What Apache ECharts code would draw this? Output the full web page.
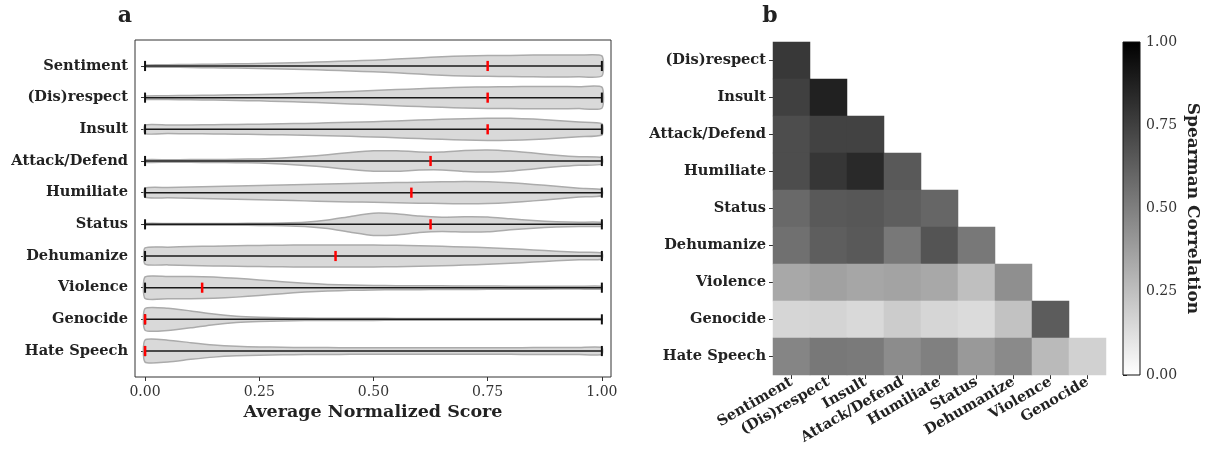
<!DOCTYPE html>
<html>
<head>
<meta charset="utf-8">
<script src="https://cdn.jsdelivr.net/npm/echarts@6/dist/echarts.min.js"></script>
<style>
  html, body { margin: 0; padding: 0; background: #fff; }
  #main { width: 1207px; height: 457px; }
</style>
</head>
<body>
<div id="main"></div>
<script>
// ---- panel a: violins ----
const violinCats = ['Sentiment', '(Dis)respect', 'Insult', 'Attack/Defend', 'Humiliate',
  'Status', 'Dehumanize', 'Violence', 'Genocide', 'Hate Speech'];
const medians = [0.75, 0.75, 0.75, 0.625, 0.583, 0.625, 0.417, 0.125, 0, 0];
const scoreMin = [0, 0, 0, 0, 0, 0, 0, 0, 0, 0];
const scoreMax = [1, 1, 1, 1, 1, 1, 1, 1, 1, 1];
const scoreTicks = [0, 0.25, 0.5, 0.75, 1];

// density profile sampled at these scores (arbitrary units, normalised per violin)
const densX = [0, 0.05, 0.1, 0.15, 0.2, 0.25, 0.3, 0.35, 0.4, 0.45, 0.5,
  0.55, 0.6, 0.65, 0.7, 0.75, 0.8, 0.85, 0.9, 0.95, 1];
const densSentiment = [1.0, 1.2, 1.5, 1.8, 2.1, 2.5, 3.0, 3.5, 4.2, 5.0, 5.8, 6.8, 8.0, 9.2, 10.0, 10.3, 10.5, 10.8, 11.0, 10.8, 10.0];
const densDisrespect = [1.5, 1.8, 2.0, 2.3, 2.6, 3.0, 3.5, 4.2, 5.0, 5.8, 6.7, 7.5, 8.3, 9.0, 9.6, 10.0, 10.2, 10.3, 10.3, 10.2, 9.8];
const densInsult = [4.0, 4.0, 4.1, 4.3, 4.5, 4.8, 5.1, 5.5, 6.0, 6.5, 7.1, 7.8, 8.6, 9.3, 9.9, 10.3, 10.2, 9.5, 8.3, 6.8, 5.3];
const densAttack = [1.2, 1.2, 1.3, 1.4, 1.6, 2.0, 2.8, 4.2, 6.0, 8.0, 9.6, 9.7, 8.6, 8.5, 10.0, 10.5, 9.5, 7.5, 5.5, 4.0, 3.2];
const densHumiliate = [4.5, 5.0, 5.5, 6.0, 6.5, 7.0, 7.5, 8.0, 8.5, 9.0, 9.4, 9.8, 10.2, 10.6, 10.8, 10.6, 9.6, 8.0, 6.2, 4.3, 3.0];
const densStatus = [0.8, 0.8, 0.8, 0.8, 0.9, 1.0, 1.3, 2.0, 4.0, 7.5, 10.5, 10.0, 7.8, 6.8, 7.2, 7.0, 5.2, 3.6, 2.5, 2.0, 1.8];
const densDehumanize = [8.0, 8.8, 9.4, 9.8, 10.2, 10.5, 10.7, 10.9, 11.0, 11.0, 10.9, 10.6, 10.2, 9.6, 9.0, 8.2, 7.2, 6.0, 4.8, 3.8, 3.2];
const densViolence = [10.5, 10.8, 10.8, 10.3, 9.2, 7.6, 5.8, 4.3, 3.2, 2.6, 2.2, 2.0, 1.9, 1.8, 1.7, 1.6, 1.5, 1.5, 1.4, 1.4, 1.4];
const densGenocide = [10.3, 10.5, 8.0, 5.0, 3.0, 2.0, 1.5, 1.2, 1.0, 1.0, 1.0, 0.9, 0.9, 0.9, 0.9, 0.9, 0.9, 0.8, 0.8, 0.8, 0.8];
const densHate = [10.0, 9.8, 7.5, 5.5, 4.3, 3.7, 3.4, 3.2, 3.1, 3.0, 3.0, 3.0, 3.0, 3.0, 3.0, 3.0, 3.0, 3.1, 3.1, 3.2, 3.2];
const densities = [densSentiment, densDisrespect, densInsult, densAttack, densHumiliate,
  densStatus, densDehumanize, densViolence, densGenocide, densHate];

// ---- panel b: correlation heatmap (lower triangle) ----
const heatCols = ['Sentiment', '(Dis)respect', 'Insult', 'Attack/Defend', 'Humiliate',
  'Status', 'Dehumanize', 'Violence', 'Genocide'];
const heatRows = ['(Dis)respect', 'Insult', 'Attack/Defend', 'Humiliate', 'Status',
  'Dehumanize', 'Violence', 'Genocide', 'Hate Speech'];
const corrDisrespect = [0.78];
const corrInsult = [0.75, 0.87];
const corrAttack = [0.70, 0.74, 0.74];
const corrHumiliate = [0.70, 0.79, 0.84, 0.65];
const corrStatus = [0.59, 0.65, 0.66, 0.63, 0.60];
const corrDehumanize = [0.56, 0.63, 0.65, 0.53, 0.67, 0.53];
const corrViolence = [0.34, 0.37, 0.35, 0.36, 0.34, 0.25, 0.44];
const corrGenocide = [0.16, 0.17, 0.15, 0.20, 0.16, 0.14, 0.24, 0.64];
const corrHate = [0.48, 0.53, 0.52, 0.45, 0.50, 0.40, 0.46, 0.27, 0.18];
const corrRows = [corrDisrespect, corrInsult, corrAttack, corrHumiliate, corrStatus,
  corrDehumanize, corrViolence, corrGenocide, corrHate];

const heatData = [];
corrRows.forEach((row, r) => row.forEach((v, c) => heatData.push([c, r, v])));

const FONT = 'DejaVu Serif';
const HALF = 0.35; // half of violin width in category units

function renderViolin(params, api) {
  const k = params.dataIndex;
  const yc = k + 1;
  const dens = densities[k];
  const dmax = Math.max.apply(null, dens);
  const top = [], bot = [];
  densX.forEach((x, i) => {
    const w = dens[i] / dmax * HALF;
    top.push(api.coord([x, yc - w]));
    bot.push(api.coord([x, yc + w]));
  });
  const pts = top.concat(bot.reverse());
  const p0 = api.coord([scoreMin[k], yc]);
  const p1 = api.coord([scoreMax[k], yc]);
  const pm = api.coord([medians[k], yc]);
  const cap = api.size([0, 0.16])[1];
  return {
    type: 'group',
    children: [
      { type: 'polygon', shape: { points: pts, smooth: 0.2 },
        style: { fill: '#d9d9d9', stroke: '#ababab', lineWidth: 1.5 } },
      { type: 'line', shape: { x1: p0[0], y1: p0[1], x2: p1[0], y2: p1[1] },
        style: { stroke: '#1a1a1a', lineWidth: 1.5 } },
      { type: 'line', shape: { x1: p0[0], y1: p0[1] - cap, x2: p0[0], y2: p0[1] + cap },
        style: { stroke: '#111', lineWidth: 2 } },
      { type: 'line', shape: { x1: p1[0], y1: p1[1] - cap, x2: p1[0], y2: p1[1] + cap },
        style: { stroke: '#111', lineWidth: 2 } },
      { type: 'line', shape: { x1: pm[0], y1: pm[1] - cap, x2: pm[0], y2: pm[1] + cap },
        style: { stroke: '#ff0000', lineWidth: 2.5 } }
    ]
  };
}

function renderCbar(params, api) {
  const a = api.coord([0, 1]);
  const b = api.coord([1, 0]);
  return {
    type: 'rect',
    shape: { x: a[0], y: a[1], width: b[0] - a[0], height: b[1] - a[1] },
    style: {
      fill: new echarts.graphic.LinearGradient(0, 0, 0, 1, [
        { offset: 0, color: '#000000' }, { offset: 1, color: '#ffffff' }]),
      stroke: '#111', lineWidth: 1
    }
  };
}

const chart = echarts.init(document.getElementById('main'));
chart.setOption({
  animation: false,
  textStyle: { fontFamily: FONT },
  graphic: [
    { type: 'text', x: 125, y: 16, style: { text: 'a', font: 'bold 22px "DejaVu Serif"', fill: '#222', align: 'center', verticalAlign: 'middle' } },
    { type: 'text', x: 770, y: 16, style: { text: 'b', font: 'bold 22px "DejaVu Serif"', fill: '#222', align: 'center', verticalAlign: 'middle' } }
  ],
  visualMap: {
    show: false, type: 'continuous', min: 0, max: 1, seriesIndex: 1, dimension: 2,
    inRange: { color: ['#ffffff', '#000000'] }
  },
  grid: [
    { left: 135, top: 40, width: 476, height: 337, show: true, borderColor: '#333', borderWidth: 1 },
    { left: 773, top: 42, width: 333, height: 333 },
    { left: 1123, top: 42, width: 17, height: 333 }
  ],
  xAxis: [
    {
      gridIndex: 0, type: 'value', min: -0.022, max: 1.02,
      splitLine: { show: false }, axisLine: { show: false },
      axisTick: { show: true, customValues: scoreTicks, length: 4, lineStyle: { color: '#333' } },
      axisLabel: { customValues: scoreTicks, formatter: v => v.toFixed(2), fontSize: 14, color: '#333', margin: 8 },
      name: 'Average Normalized Score', nameLocation: 'middle', nameGap: 26,
      nameTextStyle: { fontWeight: 'bold', fontSize: 17.5, color: '#222', fontFamily: FONT }
    },
    {
      gridIndex: 1, type: 'category', data: heatCols,
      axisLine: { show: false }, splitLine: { show: false },
      axisTick: { show: true, alignWithLabel: true, length: 4, lineStyle: { color: '#333' } },
      axisLabel: { interval: 0, rotate: 30, fontWeight: 'bold', fontSize: 14.5, color: '#222', margin: 6 }
    },
    { gridIndex: 2, type: 'value', min: 0, max: 1, show: false }
  ],
  yAxis: [
    {
      gridIndex: 0, type: 'value', min: 0.18, max: 10.82, inverse: true,
      splitLine: { show: false }, axisLine: { show: false },
      axisTick: { show: true, customValues: violinCats.map((c, i) => i + 1), length: 4, lineStyle: { color: '#333' } },
      axisLabel: { customValues: violinCats.map((c, i) => i + 1), formatter: v => violinCats[Math.round(v) - 1],
        fontWeight: 'bold', fontSize: 14.6, color: '#222', margin: 7 }
    },
    {
      gridIndex: 1, type: 'category', data: heatRows, inverse: true,
      axisLine: { show: false }, splitLine: { show: false },
      axisTick: { show: true, alignWithLabel: true, length: 4, lineStyle: { color: '#333' } },
      axisLabel: { interval: 0, fontWeight: 'bold', fontSize: 14.6, color: '#222', margin: 7 }
    },
    {
      gridIndex: 2, type: 'value', min: 0, max: 1, interval: 0.25, position: 'right',
      splitLine: { show: false }, axisLine: { show: false },
      axisTick: { show: true, length: 4, lineStyle: { color: '#333' } },
      axisLabel: { formatter: v => v.toFixed(2), fontSize: 14, color: '#333', margin: 6 },
      name: 'Spearman Correlation', nameLocation: 'middle', nameRotate: -90, nameGap: 44,
      nameTextStyle: { fontWeight: 'bold', fontSize: 17, color: '#222', fontFamily: FONT }
    }
  ],
  series: [
    {
      type: 'custom', xAxisIndex: 0, yAxisIndex: 0, renderItem: renderViolin,
      data: violinCats.map((c, i) => [medians[i], i + 1]), silent: true, clip: false
    },
    {
      type: 'heatmap', xAxisIndex: 1, yAxisIndex: 1, data: heatData,
      itemStyle: { borderWidth: 0 }, emphasis: { disabled: true }, silent: true
    },
    {
      type: 'custom', xAxisIndex: 2, yAxisIndex: 2, renderItem: renderCbar,
      data: [[0, 0]], silent: true
    }
  ]
});
</script>
</body>
</html>
